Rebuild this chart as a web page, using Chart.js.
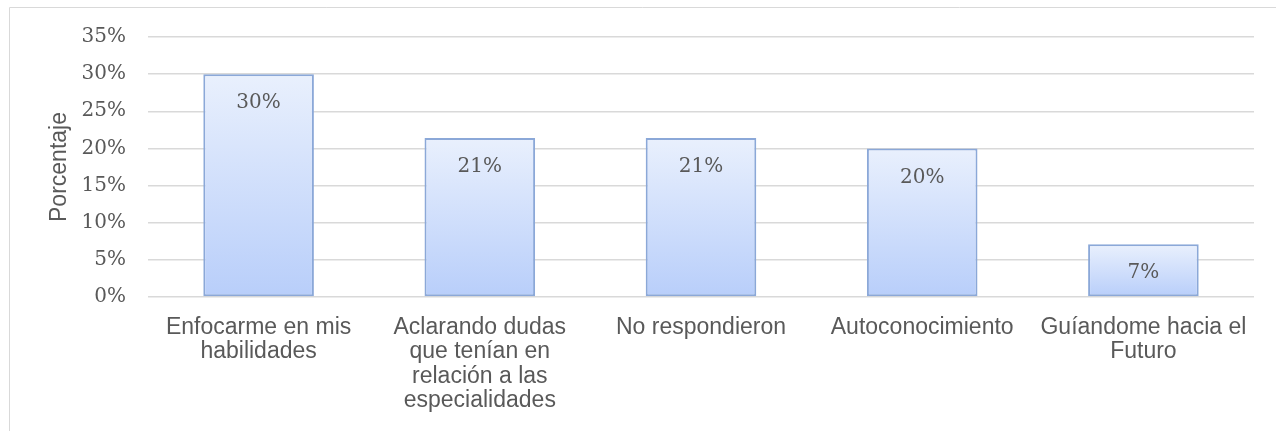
<!DOCTYPE html>
<html>
<head>
<meta charset="utf-8">
<script src="https://cdn.jsdelivr.net/npm/chart.js@4/dist/chart.umd.min.js"></script>
<style>
  html, body { margin: 0; padding: 0; background: #fff; }
  #wrap { position: relative; width: 1276px; height: 431px; }
</style>
</head>
<body>
<div id="wrap"><canvas id="chart"></canvas></div>
<script>
// values
const categories = [
  ['Enfocarme en mis', 'habilidades'],
  ['Aclarando dudas', 'que tenían en', 'relación a las', 'especialidades'],
  'No respondieron',
  'Autoconocimiento',
  ['Guíandome hacia el', 'Futuro']
];
const percentages = [30, 21.4, 21.4, 20, 7.1];
const valueLabels = ['30%', '21%', '21%', '20%', '7%'];
const yTicks = [0, 5, 10, 15, 20, 25, 30, 35];

const textGrey = '#595959';
const gridGrey = '#d9d9d9';

// light frame round the chart, only left and top edges show in the picture
const frame = {
  id: 'frame',
  beforeDraw(chart) {
    const ctx = chart.ctx;
    ctx.save();
    ctx.strokeStyle = gridGrey;
    ctx.lineWidth = 1;
    ctx.beginPath();
    ctx.moveTo(9.5, chart.height);
    ctx.lineTo(9.5, 7.5);
    ctx.lineTo(chart.width, 7.5);
    ctx.stroke();
    ctx.restore();
  }
};

const barValueLabels = {
  id: 'barValueLabels',
  afterDatasetsDraw(chart) {
    const ctx = chart.ctx;
    const meta = chart.getDatasetMeta(0);
    ctx.save();
    ctx.font = '20px "DejaVu Serif"';
    ctx.fillStyle = textGrey;
    ctx.textAlign = 'center';
    ctx.textBaseline = 'middle';
    meta.data.forEach((bar, i) => {
      ctx.fillText(valueLabels[i], bar.x, bar.y + 29);
    });
    ctx.restore();
  }
};

function barGradient(context) {
  const chart = context.chart;
  if (!chart.chartArea || !chart.scales.y) return '#d3e1fb';
  const y = chart.scales.y;
  const top = y.getPixelForValue(context.raw);
  const bottom = y.getPixelForValue(0);
  if (!isFinite(top) || !isFinite(bottom) || top === bottom) return '#d3e1fb';
  const g = chart.ctx.createLinearGradient(0, top, 0, bottom);
  g.addColorStop(0, '#e9f0fd');
  g.addColorStop(1, '#b8cefa');
  return g;
}

new Chart(document.getElementById('chart'), {
  type: 'bar',
  data: {
    labels: categories,
    datasets: [{
      label: 'Porcentaje',
      data: percentages,
      backgroundColor: barGradient,
      borderColor: '#8ba8d8',
      borderWidth: 2,
      borderSkipped: false,
      categoryPercentage: 1,
      barPercentage: 0.5
    }]
  },
  options: {
    responsive: true,
    maintainAspectRatio: false,
    animation: false,
    layout: { padding: { top: 37, right: 22, bottom: 0, left: 0 } },
    plugins: {
      legend: { display: false },
      tooltip: { enabled: false }
    },
    scales: {
      x: {
        grid: { display: false },
        border: { display: false },
        ticks: {
          autoSkip: false,
          maxRotation: 0,
          minRotation: 0,
          padding: 10,
          color: textGrey,
          font: { family: '"Liberation Sans", Arial, sans-serif', size: 23, lineHeight: 1.07 }
        },
        afterFit(scale) { scale.height = 134; }
      },
      y: {
        min: 0,
        max: 35,
        afterBuildTicks(scale) { scale.ticks = yTicks.map(v => ({ value: v })); },
        grid: { color: gridGrey, lineWidth: 1.5, drawTicks: false },
        border: { display: false },
        ticks: {
          padding: 22,
          color: textGrey,
          font: { family: '"DejaVu Serif", serif', size: 20 },
          callback: v => v + '%'
        },
        title: {
          display: true,
          text: 'Porcentaje',
          color: textGrey,
          font: { family: '"Liberation Sans", Arial, sans-serif', size: 23, lineHeight: 1.2 },
          padding: { top: 46, bottom: 0 }
        },
        afterFit(scale) { scale.width = 148; }
      }
    }
  },
  plugins: [frame, barValueLabels]
});
</script>
</body>
</html>
